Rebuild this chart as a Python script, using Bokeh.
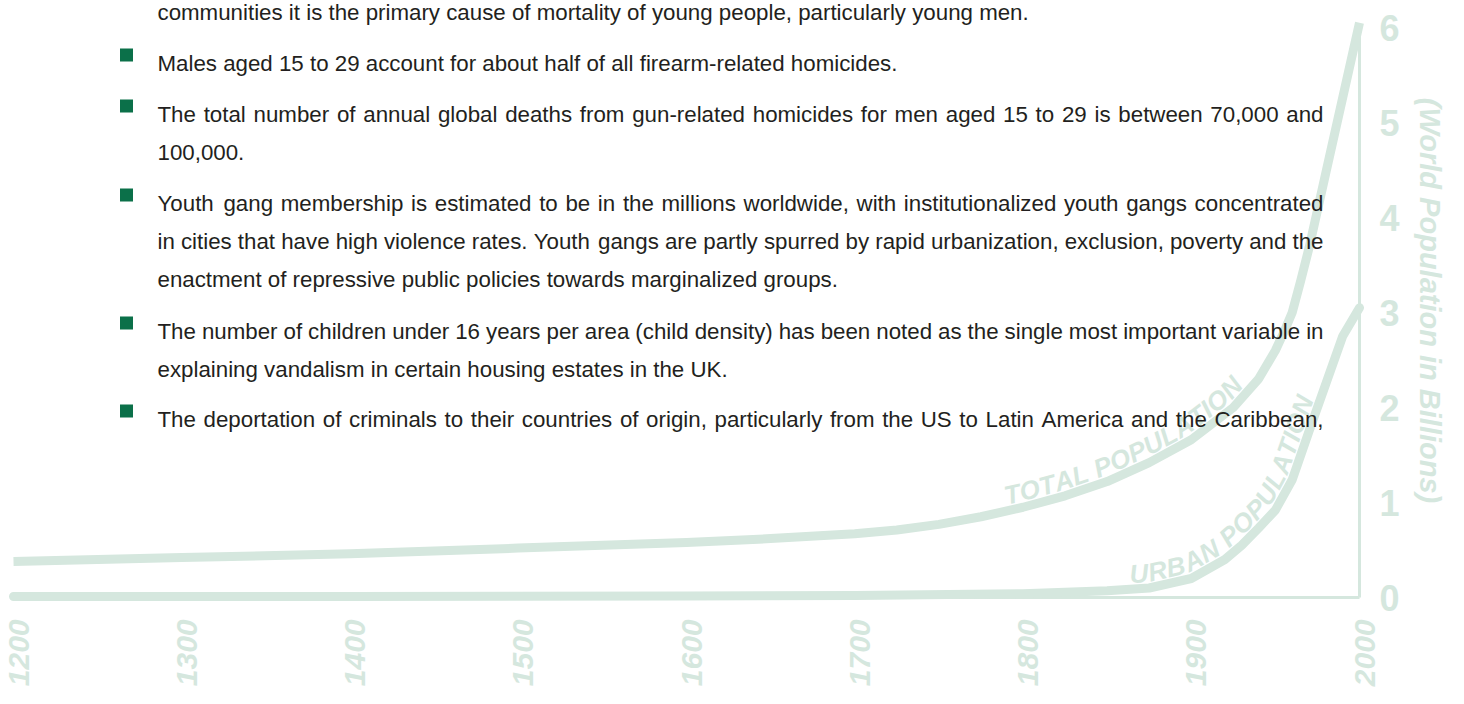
import math
from bokeh.plotting import figure
from bokeh.models import Range1d
from bokeh.core.properties import value
from bokeh.embed import file_html
from bokeh.resources import INLINE

# ---------------- data ----------------
total_years = [1200, 1300, 1400, 1500, 1600, 1650, 1700, 1725, 1750, 1775, 1800, 1825, 1850, 1875, 1900,
               1925, 1940, 1950, 1955, 1960, 1965, 1970, 1980, 1990, 2000]
total_pop = [0.38, 0.42, 0.46, 0.52, 0.58, 0.62, 0.67, 0.71, 0.77, 0.85, 0.95, 1.07, 1.22, 1.42, 1.66,
             2.00, 2.30, 2.60, 2.79, 3.00, 3.33, 3.68, 4.47, 5.26, 6.05]

urban_years = [1200, 1400, 1600, 1700, 1800, 1850, 1875, 1900, 1920, 1930, 1940, 1950, 1960, 1970, 1980,
               1990, 2000]
urban_pop = [0.01, 0.01, 0.015, 0.02, 0.04, 0.07, 0.10, 0.20, 0.40, 0.55, 0.73, 0.92, 1.24, 1.75, 2.25,
             2.75, 3.05]

year_ticks = [1200, 1300, 1400, 1500, 1600, 1700, 1800, 1900, 2000]
year_labels = ["1200", "1300", "1400", "1500", "1600", "1700", "1800", "1900", "2000"]
pop_ticks = [0, 1, 2, 3, 4, 5, 6]
pop_labels = ["0", "1", "2", "3", "4", "5", "6"]
axis_title = "(World Population in Billions)"
total_label = "TOTAL POPULATION"
urban_label = "URBAN POPULATION"

body_lines = [
    "communities it is the primary cause of mortality of young people, particularly young men.",
    "Males aged 15 to 29 account for about half of all firearm-related homicides.",
    "The total number of annual global deaths from gun-related homicides for men aged 15 to 29 is between 70,000 and",
    "100,000.",
    "Youth gang membership is estimated to be in the millions worldwide, with institutionalized youth gangs concentrated",
    "in cities that have high violence rates. Youth gangs are partly spurred by rapid urbanization, exclusion, poverty and the",
    "enactment of repressive public policies towards marginalized groups.",
    "The number of children under 16 years per area (child density) has been noted as the single most important variable in",
    "explaining vandalism in certain housing estates in the UK.",
    "The deportation of criminals to their countries of origin, particularly from the US to Latin America and the Caribbean,",
]
bullet_flags = [False, True, True, False, True, False, False, True, False, True]
justified_flags = [False, False, True, False, True, True, False, True, False, True]

# ---------------- layout / style ----------------
W, H = 1448, 688
SX = (1367 - 21) / 800.0   # px per year
SY = 95.0                  # px per billion
X0 = 1200 - (21 - 8) / SX
X1 = X0 + W / SX
Y1 = (605 - 8) / SY
Y0 = Y1 - H / SY


def dx(px):
    return X0 + (px - 8) / SX


def dy(py):
    return Y1 - (py - 8) / SY


GREEN = "#d5e7de"
TEXT = "#231f20"
BULLET = "#0b7049"
BODY_FONT = value("Liberation Sans")
LABEL_FONT = value("Liberation Sans")
BODY_SIZE = 22.3
LEFT, RIGHT = 165, 1331
BULLET_X = 134
BASELINES = [20, 71, 122, 160, 211, 249, 287, 339, 377, 427]
YEAR_FONT = 30
YEAR_SHIFT = 5   # px: baseline of rotated year labels to the right of the tick

W_REG = {' ': 278, ',': 278, '.': 278, '-': 333, '(': 333, ')': 333}
for c in "0123456789":
    W_REG[c] = 556
W_REG.update(dict(zip("abcdefghijklmnopqrstuvwxyz",
                      [556, 556, 500, 556, 556, 278, 556, 556, 222, 222, 500, 222, 833,
                       556, 556, 556, 556, 333, 500, 278, 556, 500, 722, 500, 500, 500])))
W_REG.update(dict(zip("ABCDEFGHIJKLMNOPQRSTUVWXYZ",
                      [667, 667, 722, 722, 667, 611, 778, 722, 278, 500, 667, 556, 833,
                       722, 778, 667, 778, 722, 667, 611, 722, 667, 944, 667, 667, 611])))
W_BOLD = {' ': 278}
W_BOLD.update(dict(zip("ABCDEFGHIJKLMNOPQRSTUVWXYZ",
                       [722, 722, 722, 722, 667, 611, 778, 722, 278, 556, 722, 611, 833,
                        722, 778, 667, 778, 722, 667, 611, 722, 667, 944, 667, 667, 611])))


def tw(s, size):
    return sum(W_REG.get(c, 556) for c in s) * size / 1000.0


p = figure(width=W, height=H, x_range=Range1d(X0, X1), y_range=Range1d(Y0, Y1),
           output_backend="svg", toolbar_location=None, x_axis_type=None, y_axis_type=None,
           min_border=0, outline_line_color=None,
           background_fill_color="white", border_fill_color="white")

# axes lines
p.line(x=[year_ticks[0], year_ticks[-1]], y=[pop_ticks[0], pop_ticks[0]], line_color=GREEN, line_width=3)
p.line(x=[year_ticks[-1], year_ticks[-1]], y=[pop_ticks[0], pop_ticks[-1] - 0.08], line_color=GREEN, line_width=3)

# curves
p.line(total_years, total_pop, line_color=GREEN, line_width=9, line_join="round", line_cap="butt")
p.line(urban_years, urban_pop, line_color=GREEN, line_width=9, line_join="round", line_cap="round")


def along(years, vals, text, start_px, offset, size, table):
    P = [((y - X0) * SX, (v - Y0) * SY) for y, v in zip(years, vals)]
    n = len(P)
    Q = []
    for k in range(n):
        a = P[max(k - 1, 0)]
        b = P[min(k + 1, n - 1)]
        tx, ty = b[0] - a[0], b[1] - a[1]
        L = math.hypot(tx, ty)
        tx, ty = tx / L, ty / L
        Q.append((P[k][0] - offset * ty, P[k][1] + offset * tx))
    S = [0.0]
    for k in range(1, n):
        S.append(S[-1] + math.hypot(Q[k][0] - Q[k - 1][0], Q[k][1] - Q[k - 1][1]))

    def at(s):
        for k in range(1, n):
            if s <= S[k] or k == n - 1:
                f = (s - S[k - 1]) / (S[k] - S[k - 1])
                return (Q[k - 1][0] + f * (Q[k][0] - Q[k - 1][0]),
                        Q[k - 1][1] + f * (Q[k][1] - Q[k - 1][1]))

    s0 = 0.0
    for k in range(1, n):
        if Q[k][0] >= start_px:
            f = (start_px - Q[k - 1][0]) / (Q[k][0] - Q[k - 1][0])
            s0 = S[k - 1] + f * (S[k] - S[k - 1])
            break
    xs, ys, cs, angs = [], [], [], []
    s = s0
    for c in text:
        w = table.get(c, 667) * size / 1000.0
        a = at(s)
        b = at(s + max(w, 10))
        angs.append(math.atan2(b[1] - a[1], b[0] - a[0]))
        xs.append(a[0] / SX + X0)
        ys.append(a[1] / SY + Y0)
        cs.append(c)
        s += w
    return xs, ys, cs, angs


for txt, yrs, vals, start in [(total_label, total_years, total_pop, 1012 - 8),
                              (urban_label, urban_years, urban_pop, 1137 - 8)]:
    xs, ys, cs, angs = along(yrs, vals, txt, start, 15, 26, W_BOLD)
    p.text(x=xs, y=ys, text=cs, angle=angs, text_color=GREEN, text_font=LABEL_FONT,
           text_font_size="26px", text_font_style="bold italic",
           text_align="left", text_baseline="alphabetic")

# value labels
p.text(x=[dx(1397)] * len(pop_ticks), y=pop_ticks, text=pop_labels, text_color=GREEN,
       text_font=LABEL_FONT, text_font_size="36px", text_font_style="bold",
       text_align="center", text_baseline="middle")

# year labels (rotated)
p.text(x=[yr + YEAR_SHIFT / SX for yr in year_ticks], y=[dy(627)] * len(year_ticks), text=year_labels,
       angle=math.pi / 2, text_color=GREEN, text_font=LABEL_FONT, text_font_size=f"{YEAR_FONT}px",
       text_font_style="bold italic", text_align="right", text_baseline="alphabetic")

# axis title
p.text(x=[dx(1437)], y=[dy(308)], text=[axis_title], angle=-math.pi / 2, text_color=GREEN,
       text_font=LABEL_FONT, text_font_size="29px", text_font_style="bold italic",
       text_align="center", text_baseline="middle")

# body text
tx, ty, tt = [], [], []
bx, by = [], []
for line, bl, jf, base in zip(body_lines, bullet_flags, justified_flags, BASELINES):
    if bl:
        bx.append(dx(BULLET_X))
        by.append(dy(base - 8.5))
    if jf:
        words = line.split(" ")
        ws = [tw(w_, BODY_SIZE) for w_ in words]
        gap = (RIGHT - LEFT - sum(ws)) / (len(words) - 1)
        x = LEFT
        for w_, wd in zip(words, ws):
            tx.append(dx(x))
            ty.append(dy(base))
            tt.append(w_)
            x += wd + gap
    else:
        tx.append(dx(LEFT))
        ty.append(dy(base))
        tt.append(line)

p.text(x=tx, y=ty, text=tt, text_color=TEXT, text_font=BODY_FONT,
       text_font_size=f"{BODY_SIZE}px", text_align="left", text_baseline="alphabetic")
p.scatter(x=bx, y=by, marker="square", size=13, fill_color=BULLET, line_color=None)

open("out.html", "w").write(file_html(p, INLINE))
